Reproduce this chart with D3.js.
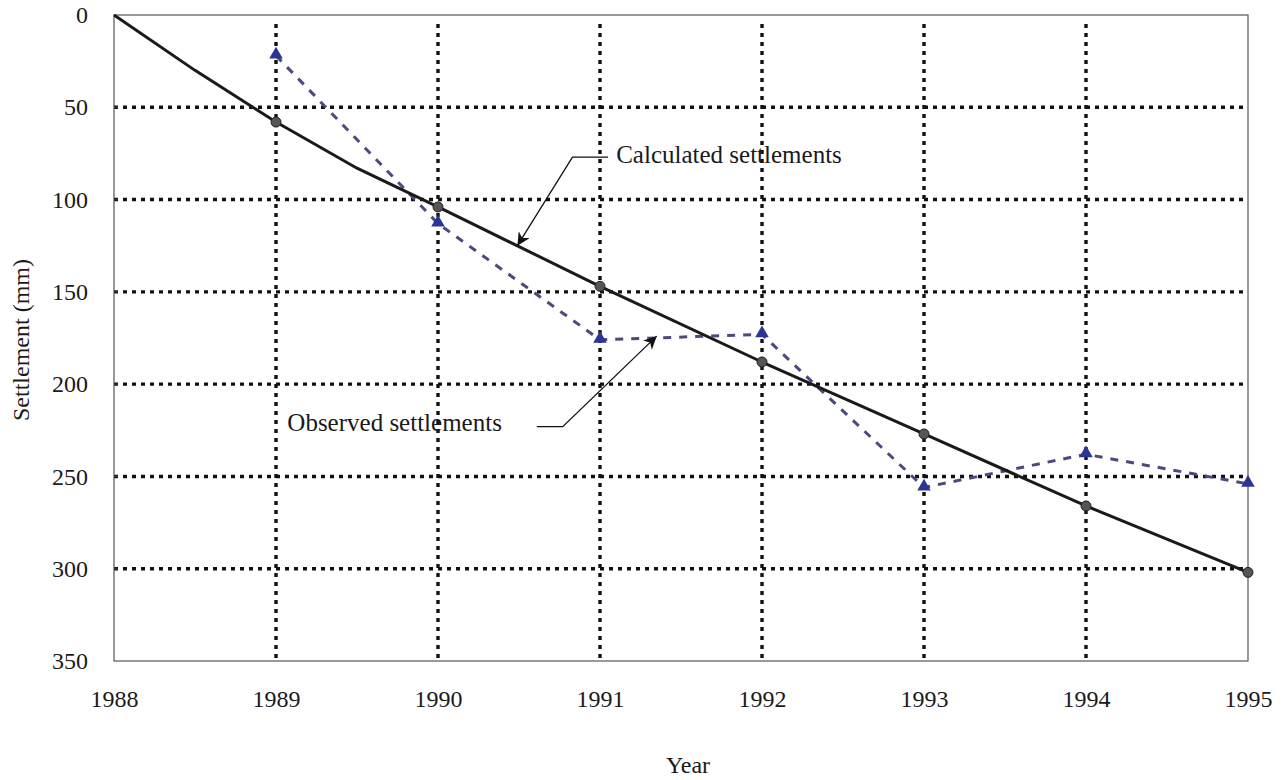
<!DOCTYPE html>
<meta charset="utf-8">
<style>
  body { margin: 0; background: #fff; }
  text { font-family: "Liberation Serif", "Times New Roman", serif; fill: #1a1a1a; }
</style>
<script src="https://d3js.org/d3.v7.min.js"></script>
<div id="chart"></div>
<script>
// calculated settlement curve (mm), with a few in-between vertices
var calcYears = [1988, 1988.5, 1989, 1989.5, 1990, 1991, 1992, 1993, 1994, 1995];
var calcValues = [0, 30, 58, 83, 104, 147, 188, 227, 266, 302];
// observed settlements (mm)
var obsYears = [1989, 1990, 1991, 1992, 1993, 1994, 1995];
var obsValues = [22, 113, 176, 173, 256, 238, 254];
// ticks
var xTicks = [1988, 1989, 1990, 1991, 1992, 1993, 1994, 1995];
var yTicks = [0, 50, 100, 150, 200, 250, 300, 350];
// annotation callouts in data units
var calcNote = { text: "Calculated settlements", label: [1991.1, 76], start: [1991.05, 77], elbow: [1990.83, 77], tip: [1990.49, 125] };
var obsNote = { text: "Observed settlements", label: [1989.07, 221], start: [1990.61, 223], elbow: [1990.77, 223], tip: [1991.35, 174] };

var W = 1282, H = 780;
var margin = {top: 15, right: 34, bottom: 119, left: 114};
var width = W - margin.left - margin.right,
    height = H - margin.top - margin.bottom;

var svg = d3.select("#chart").append("svg")
    .attr("width", W).attr("height", H);

svg.append("defs").append("marker")
    .attr("id", "arrow")
    .attr("viewBox", "0 0 10 10")
    .attr("refX", 10).attr("refY", 5)
    .attr("markerWidth", 13).attr("markerHeight", 13)
    .attr("markerUnits", "userSpaceOnUse")
    .attr("orient", "auto")
  .append("path")
    .attr("d", "M0,0 L10,5 L0,10 L3,5 Z")
    .attr("fill", "#111");

var g = svg.append("g")
    .attr("transform", "translate(" + margin.left + "," + margin.top + ")");

var x = d3.scaleLinear().domain([1988, 1995]).range([0, width]);
var y = d3.scaleLinear().domain([0, 350]).range([0, height]);

// grid
g.selectAll(".hgrid")
  .data(yTicks.filter(function(d) { return d > 0 && d < 350; }))
  .enter().append("line")
    .attr("x1", 0).attr("x2", width)
    .attr("y1", function(d) { return y(d); })
    .attr("y2", function(d) { return y(d); })
    .attr("stroke", "#111").attr("stroke-width", 3.4)
    .attr("stroke-dasharray", "4,5");

g.selectAll(".vgrid")
  .data(xTicks.filter(function(d) { return d > 1988 && d < 1995; }))
  .enter().append("line")
    .attr("x1", function(d) { return x(d); })
    .attr("x2", function(d) { return x(d); })
    .attr("y1", 9).attr("y2", height)
    .attr("stroke", "#111").attr("stroke-width", 3.4)
    .attr("stroke-dasharray", "4,5");

// frame
g.append("rect")
    .attr("width", width).attr("height", height)
    .attr("fill", "none").attr("stroke", "#555").attr("stroke-width", 1.2);

// axes
var yAxis = d3.axisLeft(y).tickValues(yTicks).tickSize(0).tickPadding(26);
g.append("g").call(yAxis)
  .call(function(s) { s.select(".domain").remove(); })
  .selectAll("text")
    .style("font-size", "24px")
    .attr("font-family", null)
    .attr("fill", "#1a1a1a");

var xAxis = d3.axisBottom(x).tickValues(xTicks).tickFormat(d3.format("d")).tickSize(0).tickPadding(29);
g.append("g").attr("transform", "translate(0," + height + ")").call(xAxis)
  .call(function(s) { s.select(".domain").remove(); })
  .selectAll("text")
    .style("font-size", "24px")
    .attr("font-family", null)
    .attr("fill", "#1a1a1a");

// small inner ticks on left axis
g.selectAll(".ltick").data(yTicks.filter(function(d) { return d > 0 && d < 350; }))
  .enter().append("line")
    .attr("x1", 0).attr("x2", 4)
    .attr("y1", function(d) { return y(d); }).attr("y2", function(d) { return y(d); })
    .attr("stroke", "#333").attr("stroke-width", 1.5);

// axis titles
svg.append("text")
    .attr("transform", "translate(29," + 340 + ") rotate(-90)")
    .attr("text-anchor", "middle")
    .style("font-size", "24px")
    .text("Settlement (mm)");

svg.append("text")
    .attr("x", 688).attr("y", 773)
    .attr("text-anchor", "middle")
    .style("font-size", "24px")
    .text("Year");

// observed line
var obs = obsYears.map(function(d, i) { return [d, obsValues[i]]; });
var calc = calcYears.map(function(d, i) { return [d, calcValues[i]]; });
var line = d3.line().x(function(d) { return x(d[0]); }).y(function(d) { return y(d[1]); });

g.append("path").datum(obs)
    .attr("d", line)
    .attr("fill", "none")
    .attr("stroke", "#4a4a7e").attr("stroke-width", 3)
    .attr("stroke-dasharray", "8,8");

// calculated line
g.append("path").datum(calc)
    .attr("d", line)
    .attr("fill", "none")
    .attr("stroke", "#1a1a1a").attr("stroke-width", 3);

g.selectAll(".calcPt").data(calc.filter(function(d) { return d[0] >= 1989 && d[0] % 1 === 0; }))
  .enter().append("circle")
    .attr("cx", function(d) { return x(d[0]); })
    .attr("cy", function(d) { return y(d[1]); })
    .attr("r", 5)
    .attr("fill", "#555").attr("stroke", "#222").attr("stroke-width", 1);

g.selectAll(".obsPt").data(obs)
  .enter().append("path")
    .attr("transform", function(d) { return "translate(" + x(d[0]) + "," + (y(d[1]) - 1) + ")"; })
    .attr("d", d3.symbol().type(d3.symbolTriangle).size(80))
    .attr("fill", "#2b3593");

// annotations
function pt(p) { return [x(p[0]), y(p[1])]; }

g.append("path")
    .attr("d", d3.line()([pt(calcNote.start), pt(calcNote.elbow), pt(calcNote.tip)]))
    .attr("fill", "none").attr("stroke", "#111").attr("stroke-width", 1.3)
    .attr("marker-end", "url(#arrow)");
g.append("text")
    .attr("x", x(calcNote.label[0])).attr("y", y(calcNote.label[1]) + 8)
    .style("font-size", "25px")
    .text(calcNote.text);

g.append("path")
    .attr("d", d3.line()([pt(obsNote.start), pt(obsNote.elbow), pt(obsNote.tip)]))
    .attr("fill", "none").attr("stroke", "#111").attr("stroke-width", 1.3)
    .attr("marker-end", "url(#arrow)");
g.append("text")
    .attr("x", x(obsNote.label[0])).attr("y", y(obsNote.label[1]) + 8)
    .style("font-size", "25px")
    .text(obsNote.text);
</script>
